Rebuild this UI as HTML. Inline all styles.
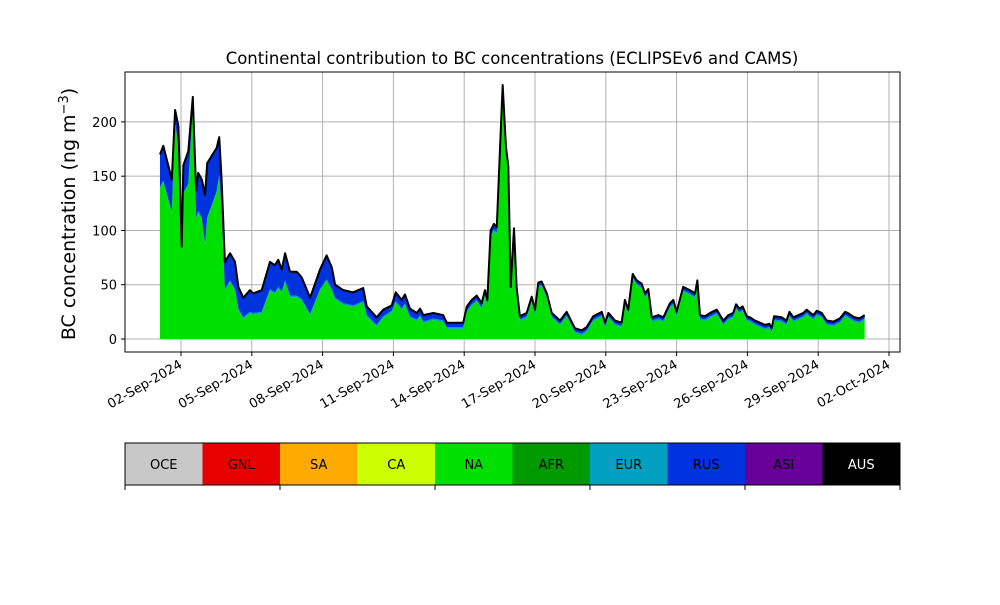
<!DOCTYPE html>
<html><head><meta charset="utf-8"><style>
body{margin:0;background:#fff;}
svg{font-family:"DejaVu Sans","Liberation Sans",sans-serif;}
</style></head><body>
<svg id="chart" width="1000" height="600" viewBox="0 0 1000 600">
<rect width="1000" height="600" fill="#fff"/>
<text x="512" y="64" font-size="16.5" text-anchor="middle">Continental contribution to BC concentrations (ECLIPSEv6 and CAMS)</text>
<text transform="translate(75,214) rotate(-90)" font-size="19" text-anchor="middle">BC concentration (ng m<tspan baseline-shift="super" font-size="13">−3</tspan>)</text>
<g id="grid"></g>
<g id="areas"></g>
<g id="axes"></g>
<g id="cbar"></g>
</svg>
<script>
const days = [1.11,1.25,1.61,1.75,1.89,2.03,2.10,2.31,2.50,2.64,2.73,2.88,3.02,3.11,3.51,3.62,3.72,3.86,4.08,4.29,4.43,4.64,4.92,5.06,5.42,5.77,5.98,6.12,6.27,6.41,6.62,6.90,7.11,7.47,7.89,8.17,8.39,8.53,8.88,9.30,9.72,9.87,10.29,10.57,10.93,11.10,11.35,11.49,11.70,11.99,12.13,12.27,12.69,13.11,13.26,13.96,14.11,14.32,14.53,14.74,14.88,14.98,15.12,15.26,15.38,15.52,15.63,15.77,15.87,15.97,16.11,16.22,16.36,16.65,16.86,17.00,17.14,17.28,17.50,17.71,18.06,18.34,18.69,18.98,19.19,19.47,19.83,19.97,20.11,20.39,20.67,20.81,20.95,21.14,21.31,21.52,21.66,21.80,21.95,22.23,22.44,22.72,22.86,23.00,23.28,23.56,23.78,23.88,23.99,24.20,24.42,24.70,24.98,25.19,25.40,25.52,25.66,25.80,25.97,26.11,26.32,26.75,26.93,27.03,27.13,27.45,27.66,27.78,27.95,28.16,28.37,28.51,28.79,28.94,29.15,29.36,29.64,29.92,30.14,30.25,30.53,30.75,30.97];
const totalBC = [170,178,147,211,196,85,160,173,223,137,153,147,133,162,176,186,147,71,79,71,48,38,45,42,45,71,68,73,64,79,62,62,57,38,64,77,66,50,45,43,47,30,20,27,31,43,36,41,28,24,28,22,24,22,15,15,30,36,40,33,45,36,100,106,103,177,234,177,159,48,102,48,21,24,39,27,52,53,42,24,17,25,10,8,11,21,25,15,24,17,15,36,27,60,54,51,42,46,20,22,20,33,36,25,48,45,42,54,22,21,24,27,17,22,24,32,28,30,21,20,17,13,14,10,21,20,17,25,20,22,24,27,22,26,24,17,16,19,25,24,20,19,22];
const rusBC = [30,32,30,10,20,5,25,30,10,25,35,35,45,50,40,35,30,25,25,25,20,18,20,18,20,25,25,25,20,25,22,22,20,15,18,22,20,12,12,12,12,8,7,6,5,8,8,8,7,6,6,6,5,5,4,4,4,4,4,4,4,4,5,5,5,3,3,3,3,3,3,3,3,3,3,3,3,3,3,3,3,3,3,3,3,3,3,3,3,3,3,3,3,3,3,3,3,3,3,3,3,3,3,3,3,3,3,3,3,3,3,3,3,3,3,3,3,3,3,3,3,3,3,3,3,3,3,3,3,3,3,3,3,3,3,3,3,3,3,3,3,3,3];
const eurBC = 1.5;
const yTicks = [0,50,100,150,200];
const xTickDays = [2,5,8,11,14,17,20,23,26,29,32];
const xTickLabels = ["02-Sep-2024","05-Sep-2024","08-Sep-2024","11-Sep-2024","14-Sep-2024","17-Sep-2024","20-Sep-2024","23-Sep-2024","26-Sep-2024","29-Sep-2024","02-Oct-2024"];
const regions = ["OCE","GNL","SA","CA","NA","AFR","EUR","RUS","ASI","AUS"];
const regionColors = ["#c8c8c8","#e60000","#ffaa00","#ccff00","#00e000","#009900","#00a0c0","#0033dd","#660099","#000000"];

const NS="http://www.w3.org/2000/svg";
const L=125,R=900,T=72,B=352;
const xs=d=>181+(d-2)*23.6;
const ys=v=>339-v*1.0855;
function mk(tag,attrs,parent){const e=document.createElementNS(NS,tag);for(const k in attrs)e.setAttribute(k,attrs[k]);parent.appendChild(e);return e;}
const grid=document.getElementById('grid'),areas=document.getElementById('areas'),axes=document.getElementById('axes'),cbar=document.getElementById('cbar');
yTicks.forEach(v=>{const l=mk('line',{x1:L,x2:R,y1:ys(v),y2:ys(v),stroke:'#b0b0b0','stroke-width':1},grid);

});
xTickDays.forEach(d=>{const l=mk('line',{x1:xs(d),x2:xs(d),y1:T,y2:B,stroke:'#b0b0b0','stroke-width':1},grid);

});
function areaPath(lo,hi){let p='M'+xs(days[0])+','+ys(hi[0]);for(let i=1;i<days.length;i++)p+='L'+xs(days[i])+','+ys(hi[i]);for(let i=days.length-1;i>=0;i--)p+='L'+xs(days[i])+','+ys(lo[i]);return p+'Z';}
const zero=days.map(()=>0);
const naTop=totalBC.map((t,i)=>Math.max(0,t-rusBC[i]-eurBC));
const eurTop=naTop.map(v=>v+eurBC);
const na=mk('path',{d:areaPath(zero,naTop),fill:'#00e000'},areas);


const eu=mk('path',{d:areaPath(naTop,eurTop),fill:'#00a0c0'},areas);


const ru=mk('path',{d:areaPath(eurTop,totalBC),fill:'#0033dd'},areas);


let lp='M'+days.map((d,i)=>xs(d)+','+ys(totalBC[i])).join('L');
const au=mk('path',{d:lp,fill:'none',stroke:'#000','stroke-width':2,'stroke-linejoin':'round'},areas);


const fr=mk('rect',{x:L,y:T,width:R-L,height:B-T,fill:'none',stroke:'#000','stroke-width':1},axes);


yTicks.forEach(v=>{mk('line',{x1:L-4,x2:L,y1:ys(v),y2:ys(v),stroke:'#000'},axes);
const t=mk('text',{x:L-8,y:ys(v)+5,'font-size':13,'text-anchor':'end'},axes);t.textContent=v;

});
xTickDays.forEach((d,i)=>{const x=xs(d);mk('line',{x1:x,x2:x,y1:B,y2:B+4,stroke:'#000'},axes);
const t=mk('text',{transform:`translate(${x+2},${B+15}) rotate(-30)`,'font-size':13,'text-anchor':'end'},axes);t.textContent=xTickLabels[i];

});
const cw=(R-L)/regions.length;
regions.forEach((r,i)=>{const rc=mk('rect',{x:L+i*cw,y:443,width:cw,height:42,fill:regionColors[i]},cbar);


const t=mk('text',{x:L+i*cw+cw/2,y:469,'font-size':13,'text-anchor':'middle',fill:r==='AUS'?'#fff':'#000'},cbar);t.textContent=r;

});
mk('rect',{x:L,y:443,width:R-L,height:42,fill:'none',stroke:'#000'},cbar);
for(let k=0;k<=5;k++){mk('line',{x1:L+k*2*cw,x2:L+k*2*cw,y1:485,y2:490,stroke:'#000'},cbar);}
</script>
</body></html>
